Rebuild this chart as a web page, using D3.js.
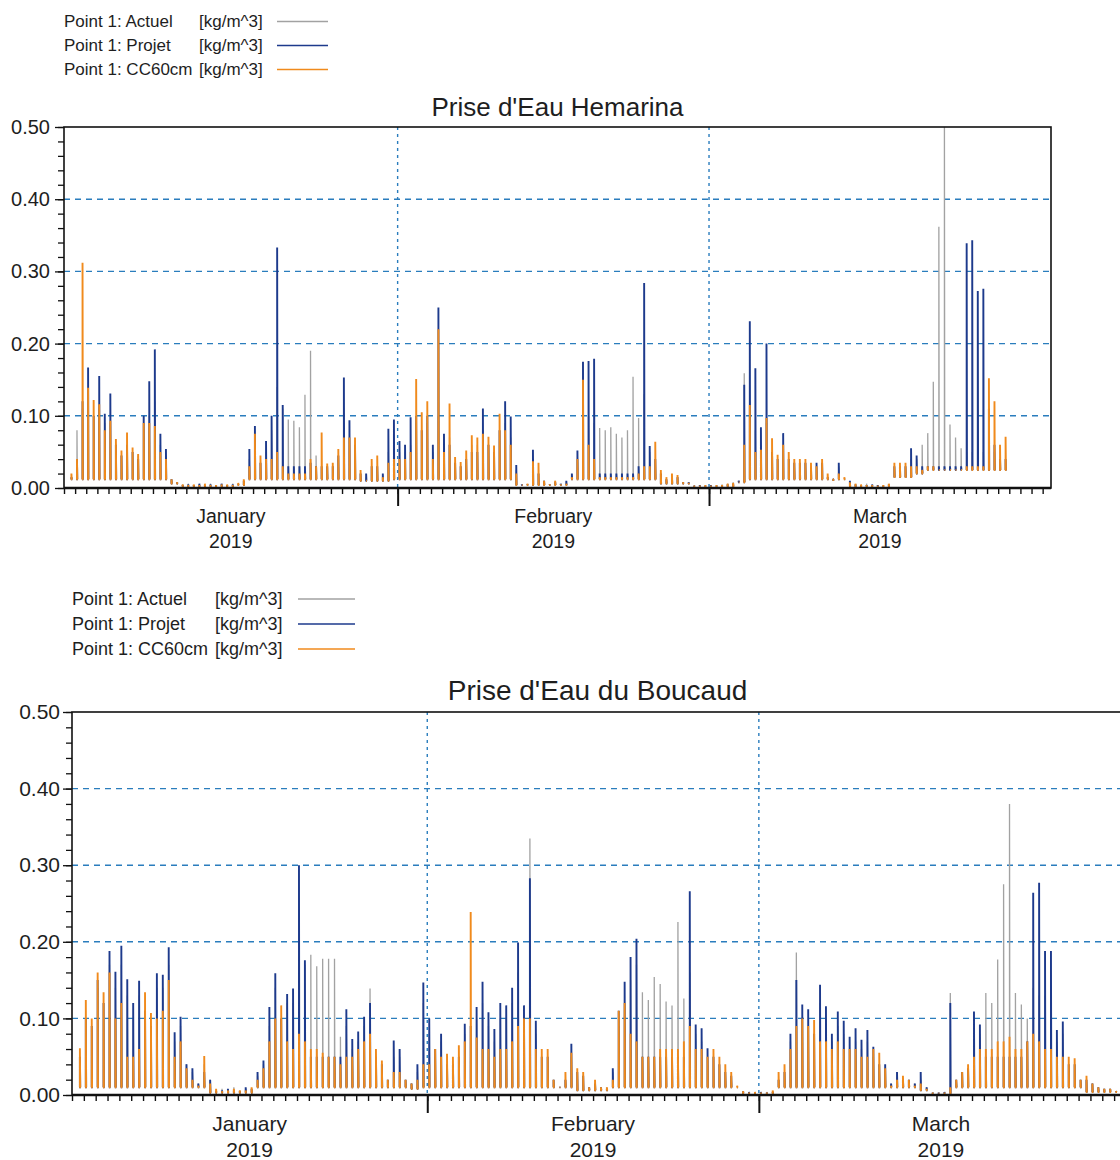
<!DOCTYPE html>
<html><head><meta charset="utf-8">
<script src="https://cdn.jsdelivr.net/npm/d3@7"></script>
<style>
body{margin:0;background:#fff}
svg{display:block}
text{font-family:"Liberation Sans",Arial,sans-serif;fill:#1e1e1e}
</style>
</head><body>
<svg id="c" width="1120" height="1160"></svg>
<script>
// ---------- labels ----------
const seriesNames = ["Point 1: Actuel", "Point 1: Projet", "Point 1: CC60cm"];
const unitLabel = "[kg/m^3]";
const seriesColors = ["#a2a2a2", "#1d3a8c", "#f08a1c"];
const seriesWidths = [1.3, 1.9, 1.9];
const chartTitles = ["Prise d'Eau Hemarina", "Prise d'Eau du Boucaud"];
const yMajorTicks = [0, 0.1, 0.2, 0.3, 0.4, 0.5];
const yGridValues = [0.1, 0.2, 0.3, 0.4];
const monthNames = ["January", "February", "March"];
const yearLabel = "2019";

// ---------- time base (peaks every 12 h, troughs per day) ----------
const firstPeak = new Date(2019, 0, 2, 16);
const peakStepHours = 12;
const xDomain = [new Date(2019, 0, 2, 0), new Date(2019, 2, 31, 18)];

// ---------- Prise d'Eau Hemarina : peak values per tide [kg/m^3] ----------
const hemActuel = [
.015,.08,.11,.12,.10,.11,.09,.09,.06,.045, .06,.05,.045,.09,.10,.12,.06,.045,.012,.008,
.005,.006,.004,.005,.004,.006,.004,.005,.004,.006, .006,.01,.04,.07,.035,.05,.08,.14,.11,.095,
.093,.084,.129,.19,.045,.03,.03,.03,.04,.09, .07,.06,.02,.015,.03,.03,.015,.05,.06,.05,
.05,.06,.09,.08,.09,.05,.10,.06,.07,.035, .03,.04,.06,.06,.08,.06,.05,.08,.09,.07,
.025,.004,.005,.04,.02,.01,.005,.01,.005,.008, .015,.04,.12,.10,.09,.083,.08,.084,.075,.07,
.08,.154,.097,.13,.05,.04,.02,.012,.015,.015, .008,.006,.004,.003,.004,.003,.004,.005,.006,.008,
.01,.159,.12,.08,.06,.09,.05,.04,.06,.04, .035,.035,.035,.03,.03,.035,.015,.01,.03,.012,
.008,.005,.004,.006,.004,.003,.004,.005,.03,.03, .03,.04,.04,.06,.076,.147,.362,.52,.088,.07,
.055,.05,.05,.05,.05,.05,.05,.04,.04,null, null,null,null,null,null,null,null];
const hemProjet = [
.015,.04,.12,.167,.10,.155,.103,.131,.06,.045, .06,.05,.04,.10,.148,.192,.075,.054,.012,.008,
.004,.005,.004,.006,.004,.005,.004,.006,.004,.005, .005,.01,.054,.086,.035,.065,.10,.333,.115,.03,
.03,.03,.03,.035,.03,.03,.03,.03,.045,.153, .094,.06,.02,.02,.03,.03,.02,.082,.095,.065,
.06,.098,.10,.08,.10,.06,.25,.075,.06,.035, .03,.04,.05,.05,.11,.06,.05,.08,.12,.099,
.032,.005,.005,.053,.02,.01,.005,.008,.006,.01, .02,.052,.175,.176,.179,.02,.02,.02,.02,.02,
.02,.02,.03,.284,.058,.04,.02,.012,.015,.015, .008,.008,.003,.004,.003,.004,.003,.004,.005,.006,
.01,.143,.231,.166,.084,.20,.05,.04,.076,.04, .035,.035,.035,.03,.035,.035,.015,.01,.035,.012,
.01,.005,.004,.004,.005,.004,.003,.005,.03,.03, .03,.055,.045,.03,.03,.03,.03,.03,.03,.03,
.03,.339,.343,.273,.276,.11,.06,.04,.04,null, null,null,null,null,null,null,null];
const hemCC60 = [
.02,.04,.312,.139,.122,.116,.08,.093,.068,.052, .077,.056,.047,.09,.09,.086,.05,.04,.012,.008,
.005,.004,.005,.004,.006,.004,.004,.005,.005,.004, .007,.012,.03,.075,.045,.04,.04,.05,.03,.02,
.02,.02,.02,.04,.03,.077,.034,.035,.054,.07, .07,.07,.025,.01,.04,.045,.015,.035,.04,.04,
.04,.05,.151,.105,.12,.04,.22,.05,.117,.043, .036,.052,.073,.07,.075,.071,.059,.103,.08,.06,
.02,.004,.006,.037,.035,.01,.005,.01,.005,.006, .015,.04,.15,.06,.04,.015,.015,.015,.015,.015,
.015,.015,.02,.03,.03,.064,.025,.015,.02,.018, .008,.007,.003,.003,.004,.003,.004,.004,.006,.007,
.008,.06,.115,.05,.053,.097,.069,.046,.06,.05, .04,.04,.04,.035,.03,.04,.02,.01,.02,.015,
.008,.006,.005,.004,.004,.003,.004,.006,.035,.035, .035,.03,.03,.025,.03,.03,.025,.025,.025,.025,
.025,.03,.03,.03,.03,.152,.12,.06,.071,null, null,null,null,null,null,null,null];
// daily trough level between tide peaks
const hemTrough = [
.012,.012,.012,.012,.012,.012,.012,.012,.012,.006, .002,.002,.002,.002,.002,.004,.012,.012,.012,.012,
.012,.012,.012,.012,.012,.012,.01,.01,.01,.012, .012,.012,.012,.012,.012,.012,.012,.012,.012,.012,
.004,.004,.004,.004,.004,.012,.012,.012,.012,.012, .012,.012,.012,.006,.006,.006,.002,.002,.002,.002,
.008,.012,.012,.012,.012,.012,.012,.012,.012,.012, .002,.002,.002,.002,.015,.015,.02,.025,.025,.025,
.025,.025,.025,.025,.025,.002,.002,.002,.002];

// ---------- Prise d'Eau du Boucaud : peak values per tide [kg/m^3] ----------
const bouActuel = [
.05,.10,.09,.14,.12,.17,.14,.17,.13,.10, .13,.11,.09,.14,.14,.17,.07,.09,.04,.03,
.015,.04,.02,.006,.008,.005,.01,.006,.008,.006, .025,.04,.09,.14,.10,.12,.12,.18,.17,.183,
.168,.178,.178,.178,.076,.09,.06,.07,.09,.139, .05,.04,.02,.05,.05,.02,.015,.03,.12,.08,
.05,.07,.04,.04,.05,.08,.09,.10,.12,.09, .07,.10,.10,.12,.16,.10,.335,.08,.05,.05,
.02,.01,.02,.05,.03,.025,.01,.015,.008,.01, .03,.09,.12,.15,.17,.134,.124,.154,.145,.122,
.117,.226,.126,.16,.08,.07,.05,.05,.04,.03, .025,.01,.005,.003,.004,.003,.004,.005,.02,.03,
.07,.186,.10,.09,.08,.12,.10,.07,.09,.08, .06,.07,.06,.07,.05,.04,.035,.015,.02,.02,
.02,.015,.02,.01,.003,.003,.003,.133,.02,.03, .035,.09,.08,.133,.12,.177,.275,.38,.133,.118,
.10,.14,.13,.13,.13,.07,.08,.04,.04,.02, .02,.015,.01,.008,.008,.005,.004];
const bouProjet = [
.05,.10,.09,.15,.12,.188,.161,.195,.151,.12, .149,.11,.09,.159,.157,.193,.082,.102,.04,.035,
.015,.03,.02,.005,.006,.008,.006,.005,.01,.008, .03,.045,.115,.159,.10,.132,.139,.30,.176,.05,
.05,.05,.05,.05,.05,.112,.073,.083,.102,.12, .05,.04,.02,.071,.06,.02,.015,.04,.147,.10,
.06,.08,.04,.04,.05,.093,.09,.115,.148,.108, .086,.12,.117,.14,.199,.117,.283,.097,.05,.05,
.02,.01,.02,.067,.03,.025,.01,.015,.01,.008, .035,.11,.148,.18,.204,.05,.05,.05,.05,.05,
.05,.05,.05,.266,.092,.087,.061,.05,.04,.03, .025,.01,.005,.004,.003,.004,.003,.004,.02,.03,
.08,.15,.118,.112,.08,.144,.116,.08,.109,.097, .076,.087,.072,.085,.063,.04,.04,.015,.03,.02,
.02,.015,.03,.01,.003,.003,.004,.12,.02,.03, .035,.109,.092,.05,.05,.05,.05,.05,.05,.05,
.07,.264,.277,.188,.188,.085,.096,.04,.04,.02, .02,.015,.01,.008,.008,.005,.004];
const bouCC60 = [
.061,.124,.10,.16,.134,.16,.10,.12,.05,.05, .06,.134,.107,.10,.11,.15,.05,.07,.035,.02,
.012,.051,.015,.008,.005,.006,.008,.006,.006,.01, .02,.035,.07,.10,.117,.07,.06,.08,.07,.06,
.06,.055,.05,.05,.04,.05,.05,.06,.07,.08, .06,.045,.02,.03,.03,.02,.015,.02,.04,.04,
.06,.05,.054,.05,.065,.07,.239,.075,.06,.06, .05,.06,.06,.07,.09,.10,.10,.06,.06,.06,
.02,.01,.03,.055,.035,.03,.01,.02,.01,.01, .02,.11,.12,.08,.07,.05,.05,.05,.06,.06,
.06,.06,.07,.09,.06,.06,.05,.06,.05,.04, .03,.012,.005,.003,.004,.003,.003,.006,.03,.04,
.06,.09,.10,.09,.098,.07,.07,.06,.07,.06, .06,.06,.05,.05,.06,.055,.035,.012,.02,.025,
.02,.012,.015,.008,.003,.002,.003,.01,.02,.03, .04,.05,.06,.06,.06,.07,.07,.076,.06,.06,
.07,.08,.07,.06,.06,.05,.05,.05,.048,.02, .025,.015,.01,.008,.008,.005,.004];
const bouTrough = [
.01,.01,.01,.01,.01,.01,.01,.01,.01,.01, .01,.003,.003,.003,.003,.01,.01,.01,.01,.01,
.01,.01,.01,.01,.01,.01,.01,.01,.008,.01, .01,.01,.01,.01,.01,.01,.01,.01,.01,.01,
.01,.01,.006,.006,.006,.01,.01,.01,.01,.01, .01,.01,.01,.01,.01,.01,.002,.002,.002,.01,
.01,.01,.01,.01,.01,.01,.01,.01,.01,.01, .01,.006,.002,.002,.01,.01,.01,.01,.01,.01,
.01,.01,.01,.01,.01,.004,.004,.004,.004];

// ---------- drawing ----------
const svg = d3.select("#c");
const gridColor = "#2a7dbd";

function drawChart(o, idx) {
  const g = svg.append("g");
  const x = d3.scaleTime().domain(xDomain).range([o.left, o.right]);
  const y = d3.scaleLinear().domain([0, 0.5]).range([o.bottom, o.top]);

  // legend
  seriesNames.forEach((name, i) => {
    const by = o.leg.y0 + i * o.leg.dy;
    g.append("text").attr("x", o.leg.x).attr("y", by).attr("font-size", o.leg.size).text(name);
    g.append("text").attr("x", o.leg.ux).attr("y", by).attr("font-size", o.leg.size).text(unitLabel);
    g.append("line").attr("x1", o.leg.lx1).attr("x2", o.leg.lx2)
      .attr("y1", by - o.leg.size * 0.33).attr("y2", by - o.leg.size * 0.33)
      .attr("stroke", seriesColors[i]).attr("stroke-width", 1.5);
  });

  // title
  g.append("text").attr("x", (o.left + o.right) / 2).attr("y", o.titleY)
    .attr("text-anchor", "middle").attr("font-size", o.titleSize).text(chartTitles[idx]);

  // grid
  g.append("g").selectAll("line").data(yGridValues).join("line")
    .attr("x1", o.left).attr("x2", o.right).attr("y1", d => y(d)).attr("y2", d => y(d))
    .attr("stroke", gridColor).attr("stroke-width", 1.4).attr("stroke-dasharray", "6,5");
  const monthStarts = d3.timeMonth.range(d3.timeMonth.ceil(xDomain[0]), xDomain[1]);
  g.append("g").selectAll("line").data(monthStarts).join("line")
    .attr("x1", d => x(d)).attr("x2", d => x(d)).attr("y1", o.top).attr("y2", o.bottom)
    .attr("stroke", gridColor).attr("stroke-width", 1.4).attr("stroke-dasharray", "3,4");

  // clip
  const cid = "clip" + idx;
  svg.append("defs").append("clipPath").attr("id", cid).append("rect")
    .attr("x", o.left).attr("y", o.top).attr("width", o.right - o.left).attr("height", o.bottom - o.top);

  // series: each tide is a sharp spike from its trough, with a short foot
  const line = d3.line().defined(d => d != null && d[1] != null).x(d => x(d[0])).y(d => y(d[1]));
  o.series.forEach((vals, si) => {
    const pts = [];
    vals.forEach((v, k) => {
      if (v == null) return;
      const t = d3.timeHour.offset(firstPeak, k * peakStepHours);
      const b = o.trough[Math.floor(k / 2)];
      pts.push([t, b], [t, v], [d3.timeMinute.offset(t, 40), b], [d3.timeMinute.offset(t, 110), b], null);
    });
    g.append("path").attr("d", line(pts)).attr("fill", "none")
      .attr("stroke", seriesColors[si]).attr("stroke-width", seriesWidths[si])
      .attr("clip-path", `url(#${cid})`);
  });

  // y axis
  const yMinor = d3.range(0, 0.5001, 0.02);
  const ayMinor = g.append("g").attr("transform", `translate(${o.left},0)`)
    .call(d3.axisLeft(y).tickValues(yMinor).tickSize(6).tickFormat(""));
  ayMinor.select(".domain").remove();
  ayMinor.selectAll("line").attr("stroke", "#111").attr("stroke-width", 1.3);
  const ayMajor = g.append("g").attr("transform", `translate(${o.left},0)`)
    .call(d3.axisLeft(y).tickValues(yMajorTicks).tickSize(9).tickPadding(o.labelPad).tickFormat(d3.format(".2f")));
  ayMajor.select(".domain").remove();
  ayMajor.selectAll("line").attr("stroke", "#111").attr("stroke-width", 1.3);
  ayMajor.selectAll("text").attr("font-size", o.tickSize).attr("font-family", "Liberation Sans, Arial").attr("fill", "#1e1e1e");

  // x axis
  const axDay = g.append("g").attr("transform", `translate(0,${o.bottom})`)
    .call(d3.axisBottom(x).ticks(d3.timeDay.every(1)).tickSize(6).tickFormat(""));
  axDay.select(".domain").remove();
  axDay.selectAll("line").attr("stroke", "#111").attr("stroke-width", 1.4);
  const axMonth = g.append("g").attr("transform", `translate(0,${o.bottom})`)
    .call(d3.axisBottom(x).tickValues(monthStarts).tickSize(18).tickFormat(""));
  axMonth.select(".domain").remove();
  axMonth.selectAll("line").attr("stroke", "#111").attr("stroke-width", 2);

  // month labels (centered on visible span)
  const mStarts = [xDomain[0], ...monthStarts];
  monthNames.forEach((m, i) => {
    const a = mStarts[i], b = i + 1 < mStarts.length ? mStarts[i + 1] : xDomain[1];
    const cx = (x(a) + x(b)) / 2;
    g.append("text").attr("x", cx).attr("y", o.m1).attr("text-anchor", "middle").attr("font-size", o.monthSize).text(m);
    g.append("text").attr("x", cx).attr("y", o.m2).attr("text-anchor", "middle").attr("font-size", o.monthSize).text(yearLabel);
  });

  // frame
  g.append("rect").attr("x", o.left).attr("y", o.top).attr("width", o.right - o.left).attr("height", o.bottom - o.top)
    .attr("fill", "none").attr("stroke", "#111").attr("stroke-width", 1.6);
  g.append("line").attr("x1", o.left).attr("x2", o.right).attr("y1", o.bottom).attr("y2", o.bottom)
    .attr("stroke", "#111").attr("stroke-width", 2.4);
}

drawChart({
  left: 64, right: 1051, top: 127, bottom: 488,
  titleY: 116, titleSize: 26,
  leg: {x: 64, ux: 199, lx1: 277, lx2: 328, y0: 27, dy: 24, size: 17},
  tickSize: 20, labelPad: 5, monthSize: 19.5, m1: 523, m2: 548,
  series: [hemActuel, hemProjet, hemCC60], trough: hemTrough
}, 0);

drawChart({
  left: 72, right: 1123, top: 712, bottom: 1095,
  titleY: 700, titleSize: 28,
  leg: {x: 72, ux: 215, lx1: 298, lx2: 355, y0: 605, dy: 25, size: 18},
  tickSize: 21, labelPad: 3, monthSize: 21, m1: 1131, m2: 1157,
  series: [bouActuel, bouProjet, bouCC60], trough: bouTrough
}, 1);
</script>
</body></html>
